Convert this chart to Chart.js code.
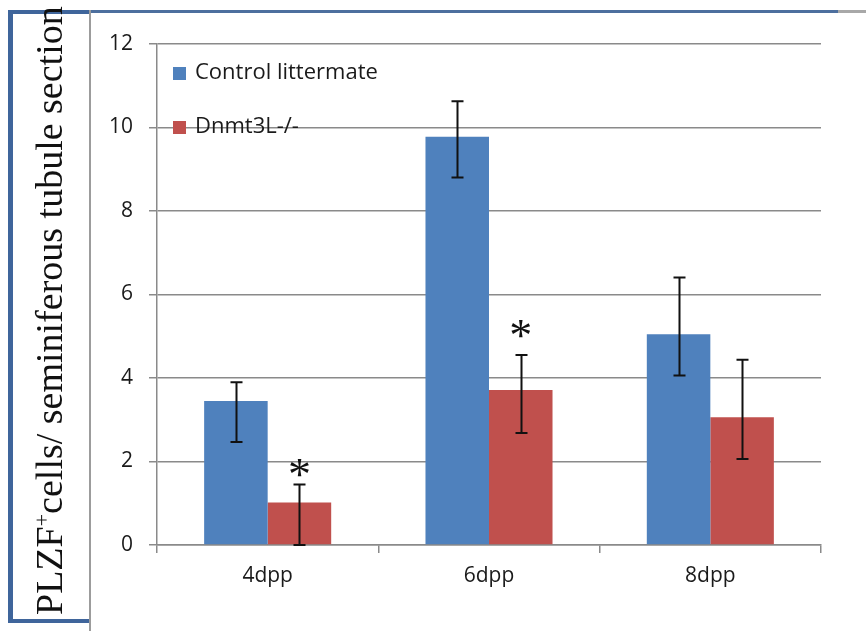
<!DOCTYPE html>
<html>
<head>
<meta charset="utf-8">
<script src="https://cdn.jsdelivr.net/npm/chart.js@4.4.1/dist/chart.umd.min.js"></script>
<style>
  html, body { margin: 0; padding: 0; background: #fff; }
  #wrap { position: relative; width: 866px; height: 631px; }
</style>
</head>
<body>
<div id="wrap"><canvas id="plzfChart" width="866" height="631"></canvas></div>
<script>
// values
const categories = ['4dpp', '6dpp', '8dpp'];
const seriesNames = ['Control littermate', 'Dnmt3L-/-'];
const controlMean = [3.45, 9.78, 5.05];
const controlLow = [2.47, 8.80, 4.06];
const controlHigh = [3.90, 10.63, 6.41];
const mutantMean = [1.02, 3.71, 3.06];
const mutantLow = [0.0, 2.68, 2.06];
const mutantHigh = [1.45, 4.55, 4.44];
const starAt = [1.87, 5.2, null];   // asterisk centre (y value) over mutant bar
const yTicks = [0, 2, 4, 6, 8, 10, 12];
const yTitle = ['PLZF', '+', 'cells/ seminiferous tubule section'];

const BLUE = '#4f81bd';
const RED = '#c0504d';
const GRID = '#8a8a8a';
const TEXT = '#1a1a1a';
const sansFont = { family: '"Open Sans", sans-serif', size: 21 };

// frame + rotated y title on the left
const framePlugin = {
  id: 'frame',
  beforeDraw(chart) {
    const ctx = chart.ctx;
    ctx.save();
    ctx.fillStyle = '#fff';
    ctx.fillRect(0, 0, chart.width, chart.height);
    // long line on top
    ctx.fillStyle = '#4d6f9e';
    ctx.fillRect(8, 10, 830, 3);
    ctx.fillStyle = '#a8a8a8';
    ctx.fillRect(838, 10, 28, 3);
    // box
    ctx.fillStyle = '#3f659b';
    ctx.fillRect(8, 10, 82, 4);
    ctx.fillRect(8, 10, 5, 613);
    ctx.fillRect(8, 619, 82, 4);
    ctx.fillStyle = '#9c9c9c';
    ctx.fillRect(89, 10, 2, 621);

    ctx.translate(62, 615);
    ctx.rotate(-Math.PI / 2);
    ctx.fillStyle = '#111';
    ctx.textBaseline = 'alphabetic';
    ctx.textAlign = 'left';
    ctx.font = '38px "Liberation Serif", serif';
    let x = 0;
    ctx.fillText(yTitle[0], x, 0);
    x += ctx.measureText(yTitle[0]).width;
    ctx.font = '22px "Liberation Serif", serif';
    ctx.fillText(yTitle[1], x, -13);
    x += ctx.measureText(yTitle[1]).width;
    ctx.font = '38px "Liberation Serif", serif';
    ctx.fillText(yTitle[2], x, 0);
    ctx.restore();
  }
};

// error bars, asterisks and legend
const extrasPlugin = {
  id: 'extras',
  afterDatasetsDraw(chart) {
    const ctx = chart.ctx;
    const y = chart.scales.y;
    const lows = [controlLow, mutantLow];
    const highs = [controlHigh, mutantHigh];
    ctx.save();
    ctx.strokeStyle = '#111';
    ctx.lineWidth = 2;
    for (let d = 0; d < 2; d++) {
      const meta = chart.getDatasetMeta(d);
      meta.data.forEach((bar, i) => {
        const x = Math.round(bar.x) + 0.5;
        const yl = y.getPixelForValue(lows[d][i]);
        const yh = y.getPixelForValue(highs[d][i]);
        ctx.beginPath();
        ctx.moveTo(x, yl); ctx.lineTo(x, yh);
        ctx.moveTo(x - 6, yl); ctx.lineTo(x + 6, yl);
        ctx.moveTo(x - 6, yh); ctx.lineTo(x + 6, yh);
        ctx.stroke();
      });
    }
    // asterisks
    const mMeta = chart.getDatasetMeta(1);
    ctx.fillStyle = '#111';
    ctx.font = '46px "Liberation Serif", serif';
    ctx.textAlign = 'center';
    ctx.textBaseline = 'alphabetic';
    starAt.forEach((v, i) => {
      if (v === null) return;
      ctx.fillText('*', mMeta.data[i].x, y.getPixelForValue(v) + 23);
    });
    ctx.restore();
  },
  afterDraw(chart) {
    const ctx = chart.ctx;
    ctx.save();
    ctx.font = '22px "Open Sans", sans-serif';
    ctx.textBaseline = 'middle';
    ctx.textAlign = 'left';
    chart.data.datasets.forEach((ds, i) => {
      const cy = 73 + i * 54;
      ctx.fillStyle = ds.backgroundColor;
      ctx.fillRect(173, cy - 6, 13, 13);
      ctx.fillStyle = TEXT;
      ctx.fillText(ds.label, 195, cy);
    });
    ctx.restore();
  }
};

new Chart(document.getElementById('plzfChart'), {
  type: 'bar',
  data: {
    labels: categories,
    datasets: [
      { label: seriesNames[0], data: controlMean, backgroundColor: BLUE },
      { label: seriesNames[1], data: mutantMean, backgroundColor: RED }
    ]
  },
  options: {
    responsive: false,
    animation: false,
    layout: { padding: { left: 8, right: 45, top: 44, bottom: 0 } },
    categoryPercentage: 0.574,
    barPercentage: 1.0,
    plugins: {
      legend: { display: false },
      tooltip: { enabled: false }
    },
    scales: {
      x: {
        grid: { offset: true, drawOnChartArea: false, drawTicks: true, tickLength: 8, color: GRID, lineWidth: 1.5 },
        border: { color: GRID, width: 1.5 },
        ticks: { font: sansFont, color: TEXT, padding: 10 },
        afterFit(s) { s.height = 86; }
      },
      y: {
        min: 0,
        max: 12,
        afterBuildTicks(s) { s.ticks = yTicks.map(v => ({ value: v })); },
        grid: { color: GRID, lineWidth: 1.5, drawTicks: true, tickLength: 8 },
        border: { color: GRID, width: 1.5 },
        ticks: { font: sansFont, color: TEXT, padding: 16 },
        afterFit(s) { s.width = 149; }
      }
    }
  },
  plugins: [framePlugin, extrasPlugin]
});
</script>
</body>
</html>
